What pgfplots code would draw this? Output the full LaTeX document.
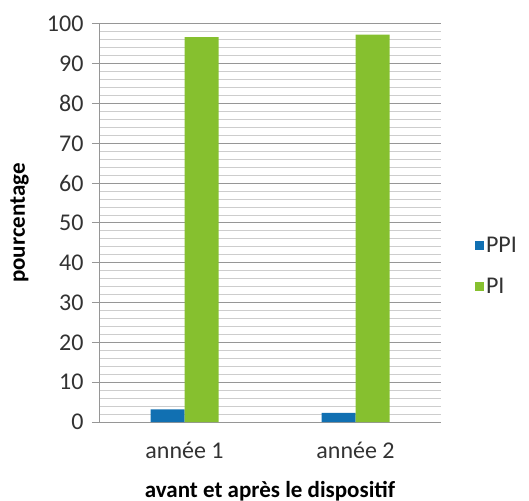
\documentclass[border=0pt]{standalone}
\usepackage{fontspec}
\setmainfont{Carlito}
\usepackage{pgfplots}
\pgfplotsset{compat=1.18}

\definecolor{ppiblue}{RGB}{17,112,178}
\definecolor{pigreen}{RGB}{134,192,47}
\definecolor{majgrid}{RGB}{150,150,150}
\definecolor{mingrid}{RGB}{205,205,205}
\definecolor{txt}{RGB}{50,50,50}

\begin{document}
\begin{tikzpicture}
\path[use as bounding box] (0,0) rectangle (529pt,500pt);
\begin{axis}[
    at={(99pt,78pt)}, anchor=south west,
    scale only axis,
    width=342pt, height=398pt,
    ybar=0pt,
    bar width=34pt,
    xmin=-0.5, xmax=1.5,
    ymin=0, ymax=100,
    xtick=data,
    xticklabels={année 1, année 2},
    ytick={0,10,...,100},
    minor y tick num=4,
    ymajorgrids, yminorgrids,
    major grid style={majgrid, line width=1pt},
    minor grid style={mingrid, line width=1pt},
    axis x line=bottom, axis y line=left,
    axis line style={-, majgrid, line width=1pt},
    x tick style={draw=none},
    y tick style={majgrid, line width=1pt},
    major tick length=7pt,
    minor tick length=0pt,
    tick align=outside,
    ticklabel style={font=\fontsize{24}{28}\selectfont, text=txt},
    /pgf/number format/assume math mode=true,
    yticklabel style={xshift=-5pt},
    xticklabel style={yshift=-10pt},
    ylabel={\bfseries pourcentage},
    ylabel style={font=\fontsize{23}{27}\selectfont, at={(axis description cs:-0.232,0.5)}, anchor=center},
    xlabel={\bfseries avant et après le dispositif},
    xlabel style={font=\fontsize{23}{27}\selectfont, at={(axis description cs:0.5,-0.173)}, anchor=center},
    legend style={at={(1.099,0.392)}, anchor=west, draw=none, fill=none,
        font=\fontsize{24}{28}\selectfont, text=txt, row sep=20pt, inner sep=0pt},
    legend cell align=left,
    legend image code/.code={\fill[#1] (0pt,-4.5pt) rectangle (9pt,4.5pt);},
]
\addplot[fill=ppiblue, draw=none] coordinates {(0,3.2) (1,2.3)};
\addplot[fill=pigreen, draw=none] coordinates {(0,96.7) (1,97.3)};
\legend{PPI, PI}
\end{axis}
\end{tikzpicture}
\end{document}
